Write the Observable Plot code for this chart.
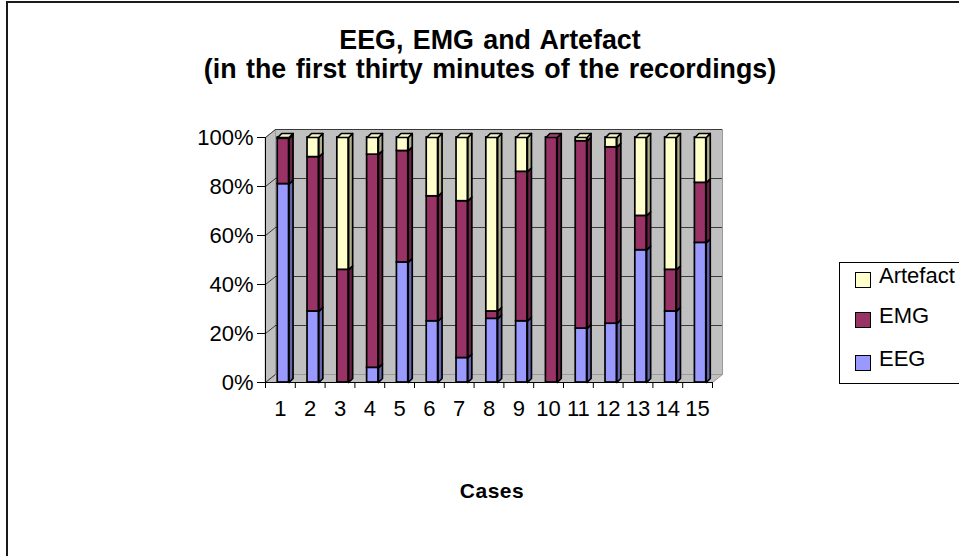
<!DOCTYPE html>
<html>
<head>
<meta charset="utf-8">
<script src="https://cdn.jsdelivr.net/npm/d3@7"></script>
<script src="https://cdn.jsdelivr.net/npm/@observablehq/plot@0.6"></script>
<style>
  body { margin: 0; background: #fff; font-family: "Liberation Sans", Arial, sans-serif; }
  #chart { position: relative; width: 959px; height: 556px; overflow: hidden; background: #fff; }
  #chart svg { position: absolute; left: 0; top: 0; }
  #border { position: absolute; left: 6px; top: 1px; width: 1000px; height: 600px;
            border-left: 2px solid #1a1a1a; border-top: 2px solid #1a1a1a; pointer-events: none; }
  #title { position: absolute; left: 0; top: 26px; width: 980px; text-align: center;
           font-weight: bold; font-size: 26.8px; word-spacing: 2px; line-height: 29px; color: #000; }
  #xlabel { position: absolute; left: 392px; top: 479px; width: 200px; text-align: center;
            font-weight: bold; font-size: 21px; letter-spacing: 0.5px; color: #000; }
  #legend { position: absolute; left: 839px; top: 262px; width: 140px; height: 120px;
            border: 1px solid #000; background: #fff; }
  .item { position: absolute; left: 15px; height: 20px; font-size: 22px; line-height: 20px; }
  .sw { position: absolute; left: 0; top: 6px; width: 14px; height: 14px; border: 1px solid #000; }
  .lab { position: absolute; left: 24px; top: 0; white-space: nowrap; }
</style>
</head>
<body>
<div id="chart">
  <div id="border"></div>
  <div id="title">EEG, EMG and Artefact<br>(in the first thirty minutes of the recordings)</div>
  <div id="xlabel">Cases</div>
  <div id="legend"></div>
</div>
<script>
// Share of each recording (first thirty minutes) classified as EEG, EMG or artefact, in percent
const caseLabels = ["1","2","3","4","5","6","7","8","9","10","11","12","13","14","15"];
const eeg      = [81, 29,  0,  6, 49, 25, 10, 26, 25,   0, 22,   24, 54, 29, 57];
const emg      = [18.5, 63, 46, 87, 45.5, 51, 64,  3, 61, 100, 76.5, 72, 14, 17, 24.5];
const artefact = [0.5,  8, 54,  7,  5.5, 24, 26, 71, 14,   0,  1.5,  4, 32, 54, 18.5];

const seriesNames = ["EEG", "EMG", "Artefact"];
const seriesValues = [eeg, emg, artefact];
const frontColor = {EEG: "#9999ff", EMG: "#993366", Artefact: "#ffffcc"};
const sideColor  = {EEG: "#6565b0", EMG: "#6a2347", Artefact: "#b0b08c"};
const topColor   = {EEG: "#aaaaff", EMG: "#a63d70", Artefact: "#f4f4c4"};

// Plot geometry
const W = 959, H = 556, mL = 265, mR = 247, mT = 137, mB = 174;
const n = caseLabels.length;
const pxX = (W - mL - mR) / n;      // pixels per category
const pxY = (H - mT - mB);          // pixels per 100%
const wallX = 10 / pxX, wallY = 8 / pxY;   // depth of the back wall
const barX = 4 / pxX, barY = 4 / pxY;      // depth of each column
const barLeft = 0.41, barRight = 0.79;     // column within its category band

// Stack the three series for each case (values are percentages of 100)
const segments = [];
caseLabels.forEach((c, i) => {
  let base = 0;
  seriesNames.forEach((s, k) => {
    const v = seriesValues[k][i] / 100;
    if (v > 0) segments.push({i, series: s, y1: base, y2: base + v});
    base += v;
  });
});

const sidePolys = segments.flatMap((d, j) => {
  const x = d.i + barRight;
  return [[x, d.y1], [x, d.y2], [x + barX, d.y2 + barY], [x + barX, d.y1 + barY]]
    .map(([px, py]) => ({key: j, series: d.series, x: px, y: py}));
});

const tops = caseLabels.map((c, i) => {
  const segs = segments.filter(d => d.i === i);
  return segs[segs.length - 1];
});
const topPolys = tops.flatMap((d, j) => {
  const a = d.i + barLeft, b = d.i + barRight, y = d.y2;
  return [[a, y], [b, y], [b + barX, y + barY], [a + barX, y + barY]]
    .map(([px, py]) => ({key: j, series: d.series, x: px, y: py}));
});

const poly = pts => pts.map(([x, y]) => ({x, y}));
const backWall = poly([[wallX, wallY], [n + wallX, wallY], [n + wallX, 1 + wallY], [wallX, 1 + wallY]]);
const sideWall = poly([[0, 0], [wallX, wallY], [wallX, 1 + wallY], [0, 1]]);
const floor = poly([[0, 0], [n, 0], [n + wallX, wallY], [wallX, wallY]]);
const yTicks = [0, 0.2, 0.4, 0.6, 0.8, 1];

const marks = [
  Plot.line(backWall, {x: "x", y: "y", fill: "#c0c0c0", stroke: "#9a9a9a", strokeWidth: 1, curve: "linear-closed"}),
  Plot.line(sideWall, {x: "x", y: "y", fill: "#c0c0c0", stroke: "#9a9a9a", strokeWidth: 1, curve: "linear-closed"}),
  Plot.line(floor, {x: "x", y: "y", fill: "#c0c0c0", stroke: "#9a9a9a", strokeWidth: 1, curve: "linear-closed"}),
  Plot.ruleY(yTicks.slice(1), {y: d => d + wallY, x1: () => wallX, x2: () => n + wallX, stroke: "#3a3a3a", strokeWidth: 1}),
  Plot.link(yTicks, {x1: () => 0, y1: d => d, x2: () => wallX, y2: d => d + wallY, stroke: "#3a3a3a", strokeWidth: 1}),
  Plot.ruleX([0], {y1: 0, y2: 1, stroke: "#000", strokeWidth: 1}),
  Plot.ruleY([0], {x1: 0, x2: n, stroke: "#000", strokeWidth: 1})
];

for (const s of seriesNames) {
  marks.push(
    Plot.rect(segments.filter(d => d.series === s), {
      x1: d => d.i + barLeft, x2: d => d.i + barRight, y1: "y1", y2: "y2",
      fill: frontColor[s], stroke: "#000", strokeWidth: 1.7
    }),
    Plot.line(sidePolys.filter(d => d.series === s), {
      x: "x", y: "y", z: "key", fill: sideColor[s], stroke: "#000", strokeWidth: 1.7,
      curve: "linear-closed", strokeLinejoin: "round"
    }),
    Plot.line(topPolys.filter(d => d.series === s), {
      x: "x", y: "y", z: "key", fill: topColor[s], stroke: "#000", strokeWidth: 1.7,
      curve: "linear-closed", strokeLinejoin: "round"
    })
  );
}

marks.push(
  Plot.axisY({ticks: yTicks, tickFormat: d3.format(".0%"), tickSize: 8, tickPadding: 4,
              fontSize: 22, label: null, stroke: "#000", style: {letterSpacing: "0.8px"}}),
  Plot.axisX({ticks: d3.range(n).map(i => i + 0.5), tickFormat: (d, k) => caseLabels[k],
              tickSize: 0, tickPadding: 18, fontSize: 22, label: null}),
  Plot.axisX({ticks: d3.range(n + 1), tickFormat: () => "", tickSize: 6, label: null, stroke: "#000"})
);

const chart = Plot.plot({
  width: W, height: H,
  marginLeft: mL, marginRight: mR, marginTop: mT, marginBottom: mB,
  x: {type: "linear", domain: [0, n]},
  y: {type: "linear", domain: [0, 1]},
  style: {fontFamily: "'Liberation Sans', Arial, sans-serif", color: "#000", background: "transparent", overflow: "visible"},
  marks
});
document.getElementById("chart").insertBefore(chart, document.getElementById("border"));

// Legend, listed from the top of the stack down
const legend = document.getElementById("legend");
[["Artefact", 3], ["EMG", 43], ["EEG", 86]].forEach(([s, top]) => {
  const item = document.createElement("div");
  item.className = "item";
  item.style.top = top + "px";
  item.innerHTML = `<div class="sw" style="background:${frontColor[s]}"></div><div class="lab">${s}</div>`;
  legend.appendChild(item);
});
</script>
</body>
</html>
